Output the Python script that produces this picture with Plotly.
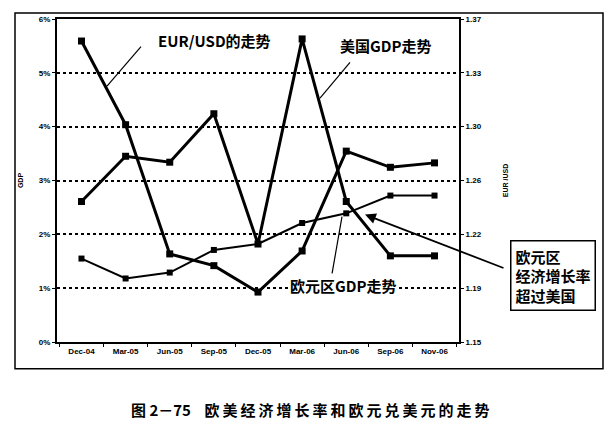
import plotly.graph_objects as go

# data
quarters = ["Dec-04", "Mar-05", "Jun-05", "Sep-05", "Dec-05",
            "Mar-06", "Jun-06", "Sep-06", "Nov-06"]
eurusd = [1.355, 1.298, 1.210, 1.202, 1.184, 1.212, 1.280, 1.269, 1.272]
us_gdp = [2.61, 3.45, 3.34, 4.24, 1.82, 5.63, 2.61, 1.60, 1.60]
ez_gdp = [1.55, 1.18, 1.29, 1.71, 1.82, 2.21, 2.39, 2.72, 2.72]

# page body has an 8px margin, so the figure is a bit smaller than the window
PAD = 8
W, H = 614 - 2 * PAD, 433 - 2 * PAD
L, R, T, B = 57, 459, 15, 342   # plot area in page pixels


def px(x):
    return (x - L) / (R - L)


def py(y):
    return (B - y) / (B - T)


CJK = "Noto Sans CJK SC"
LAT = "Liberation Sans"

fig = go.Figure()

fig.add_trace(go.Scatter(
    x=quarters, y=us_gdp, mode="lines+markers", name="美国GDP",
    line=dict(color="black", width=3),
    marker=dict(symbol="square", size=7, color="black"),
))
fig.add_trace(go.Scatter(
    x=quarters, y=ez_gdp, mode="lines+markers", name="欧元区GDP",
    line=dict(color="black", width=2),
    marker=dict(symbol="square", size=6, color="black"),
))
fig.add_trace(go.Scatter(
    x=quarters, y=eurusd, mode="lines+markers", name="EUR/USD",
    yaxis="y2",
    line=dict(color="black", width=3),
    marker=dict(symbol="square", size=7, color="black"),
))

tickfont = dict(family=LAT, size=8, color="black", weight="bold")

fig.update_layout(
    width=W, height=H,
    margin=dict(l=L - PAD, r=W + PAD - R, t=T - PAD, b=H + PAD - B),
    paper_bgcolor="white", plot_bgcolor="white",
    showlegend=False,
    xaxis=dict(
        type="category", showline=True, linecolor="black", linewidth=2,
        mirror=True, ticks="outside", ticklen=3, tickcolor="black",
        tickson="boundaries", showgrid=False, tickfont=tickfont,
        zeroline=False,
    ),
    yaxis=dict(
        range=[0, 6], dtick=1, ticksuffix="%",
        showline=True, linecolor="black", linewidth=2,
        ticks="outside", ticklen=3, tickcolor="black",
        showgrid=True, gridcolor="black", gridwidth=1.8, griddash="dot",
        zeroline=False, tickfont=tickfont,
        title=dict(text="GDP", font=dict(family=LAT, size=7, color="black", weight="bold"),
                   standoff=14),
    ),
    yaxis2=dict(
        range=[1.15, 1.37], tick0=1.15, dtick=0.22 / 6, tickformat=".2f",
        overlaying="y", side="right",
        showline=True, linecolor="black", linewidth=2,
        ticks="outside", ticklen=3, tickcolor="black",
        showgrid=False, zeroline=False, tickfont=tickfont,
        title=dict(text="EUR /USD", font=dict(family=LAT, size=7, color="black", weight="bold"),
                   standoff=22),
    ),
)

# outer frame of the figure
fig.add_shape(type="rect", xref="paper", yref="paper",
              x0=px(15), x1=px(603), y0=py(369), y1=py(9),
              line=dict(color="black", width=1.5))

# callout lines
for (x0, y0, x1, y1) in [(141, 43, 107, 83), (350, 59, 320, 95), (332, 273, 342, 215)]:
    fig.add_shape(type="line", xref="paper", yref="paper",
                  x0=px(x0), y0=py(y0), x1=px(x1), y1=py(y1),
                  line=dict(color="black", width=1.2))

labels = [
    ("EUR/USD的走势", 214, 37),
    ("美国GDP走势", 385, 42),
    ("欧元区GDP走势", 343, 285),
]
for text, x, y in labels:
    fig.add_annotation(xref="paper", yref="paper", x=px(x), y=py(y),
                       xanchor="center", yanchor="middle",
                       text="<b>%s</b>" % text, showarrow=False,
                       bgcolor="white",
                       font=dict(family=CJK, size=15, color="black"))

# boxed note with arrow
fig.add_annotation(xref="paper", yref="paper", x=px(553), y=py(275),
                   xanchor="center", yanchor="middle",
                   text="<b>欧元区<br>经济增长率<br>超过美国</b>", showarrow=False,
                   align="left", bordercolor="black", borderwidth=1.5,
                   bgcolor="white", borderpad=4,
                   font=dict(family=CJK, size=15, color="black"))
fig.add_annotation(xref="paper", yref="paper", x=px(365), y=py(213),
                   ax=140, ay=54,
                   text="", showarrow=True, arrowhead=2, arrowsize=1.2,
                   arrowwidth=1.8, arrowcolor="black")

# caption
caption = "\u2009".join("欧美经济增长率和欧元兑美元的走势")
fig.add_annotation(xref="paper", yref="paper", x=px(310), y=py(410),
                   xanchor="center", yanchor="middle",
                   text="<b>图\u00a02－75\u00a0\u00a0\u00a0\u00a0%s</b>" % caption,
                   showarrow=False,
                   font=dict(family=CJK, size=15, color="black"))

fig.write_html("out.html")
